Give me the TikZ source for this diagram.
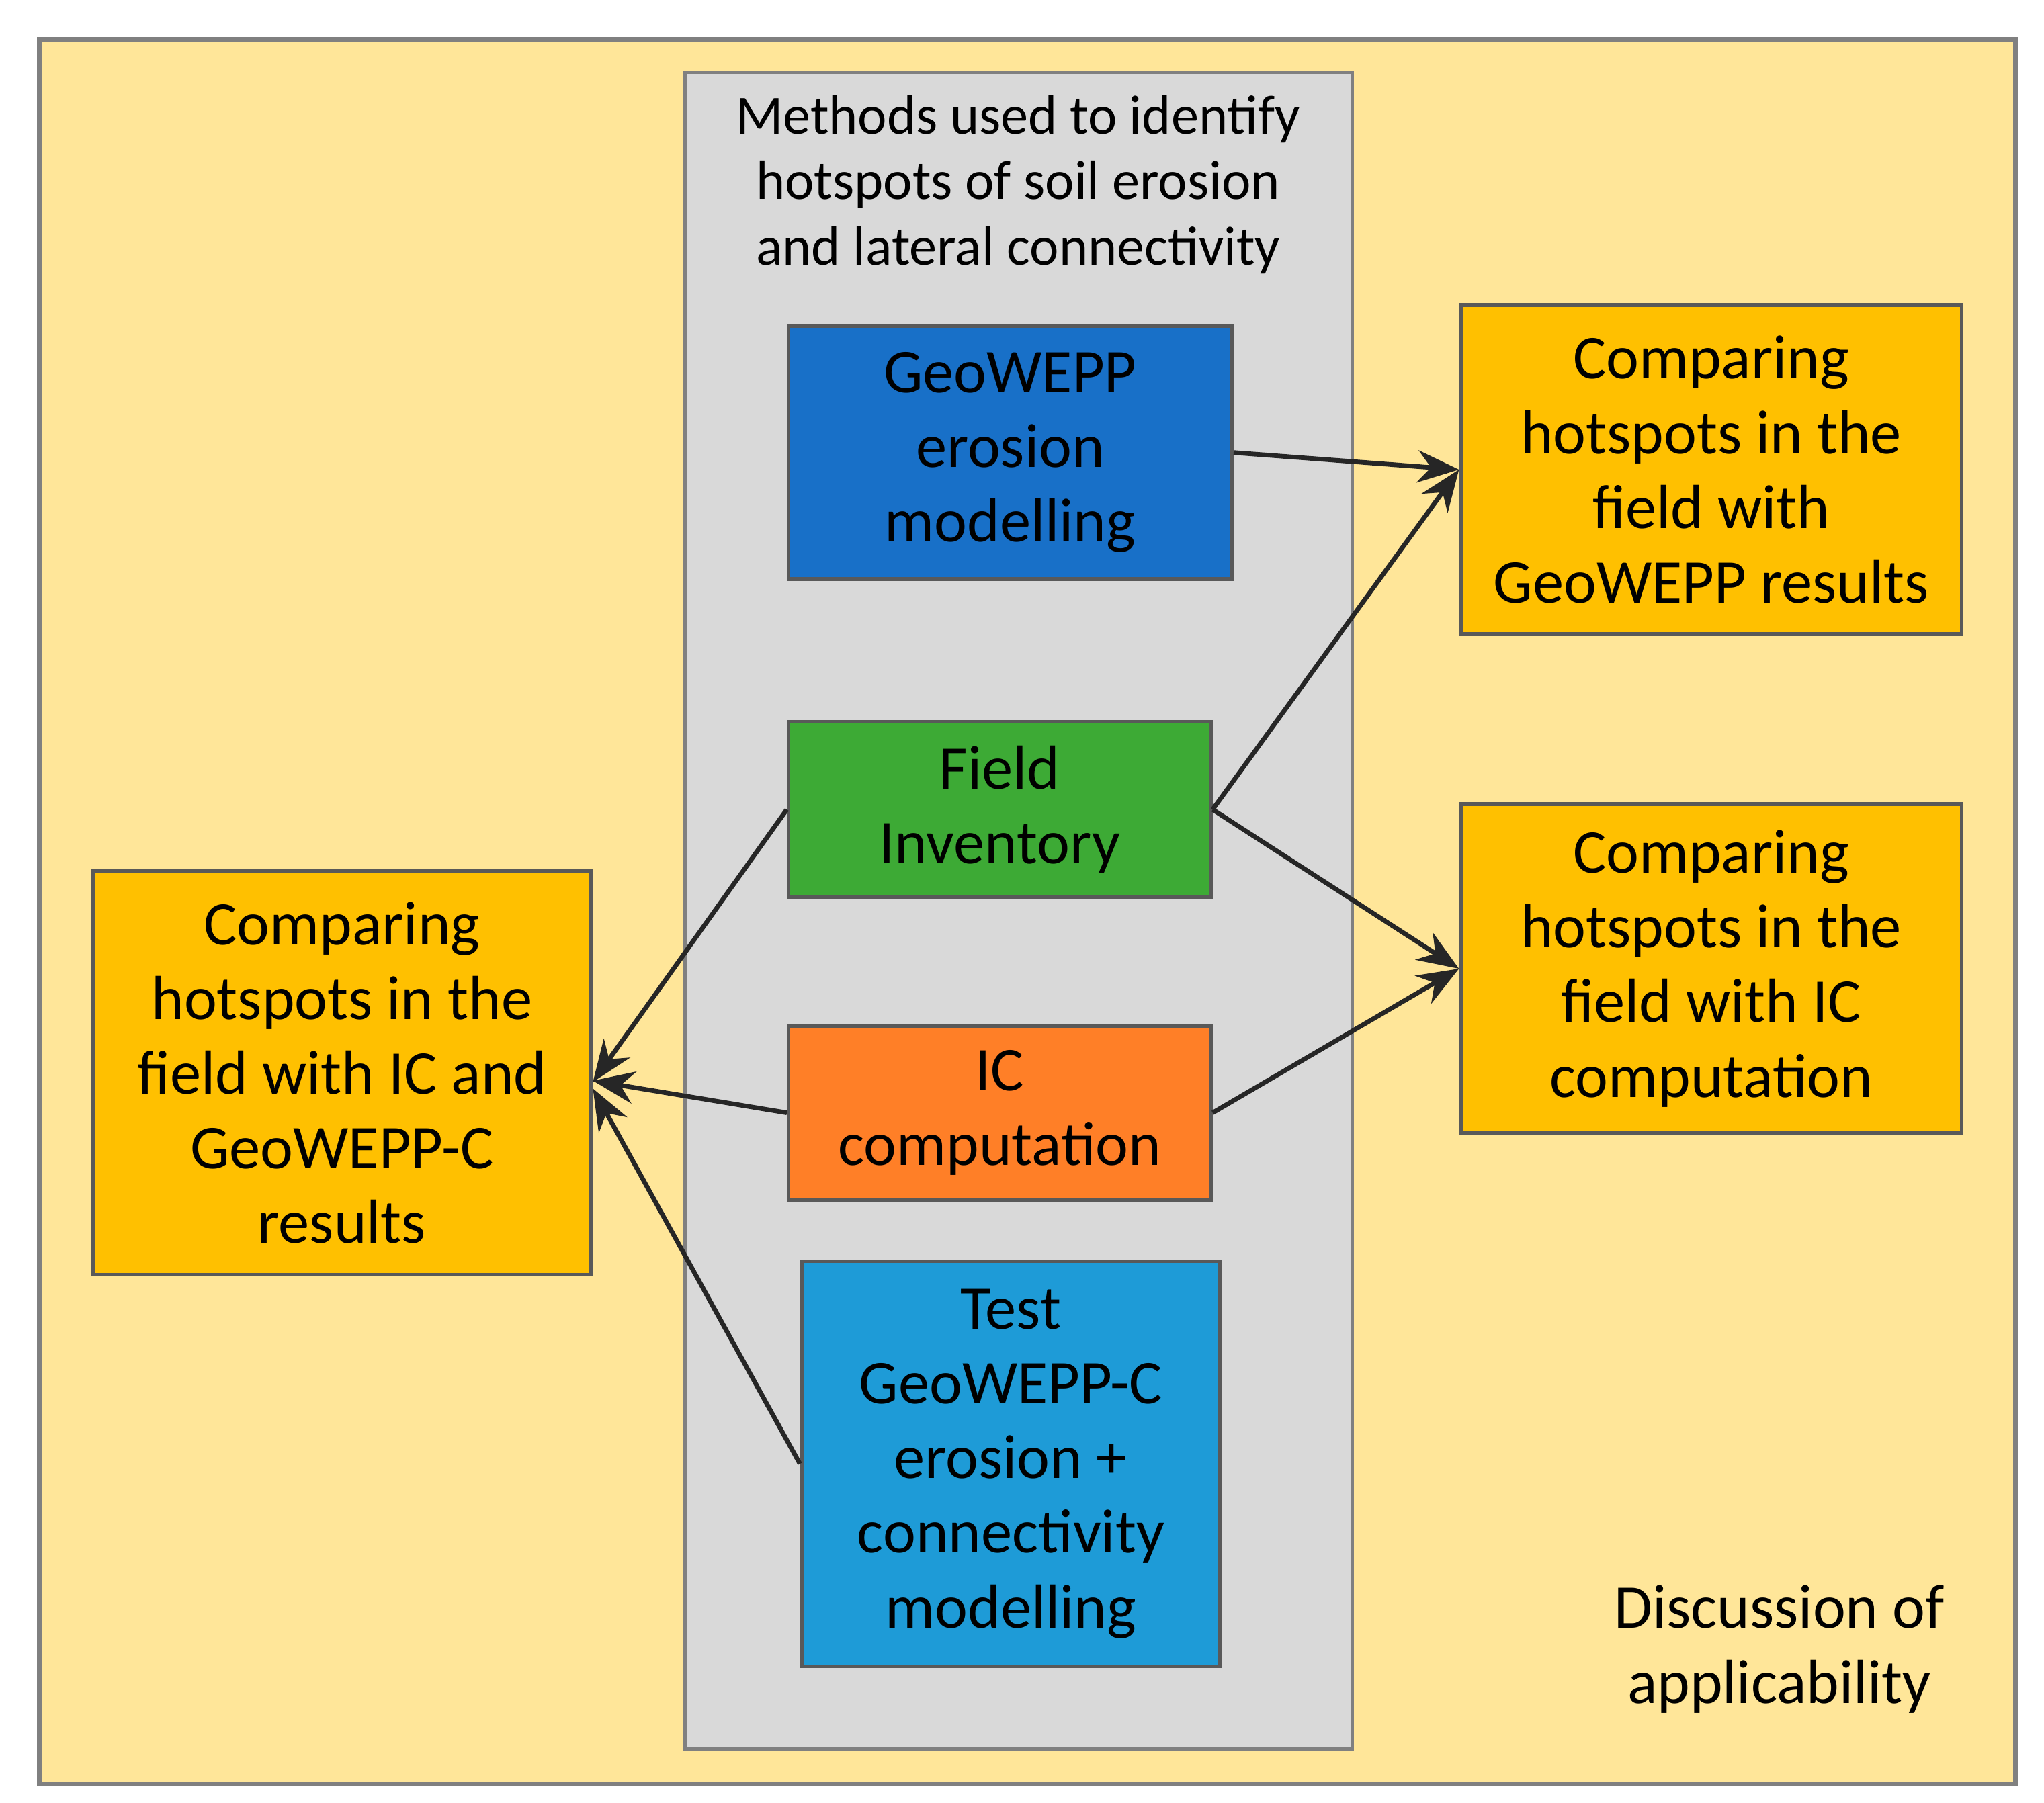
\documentclass[tikz,border=0pt]{standalone}
\usepackage{fontspec}
\setmainfont{Carlito}
\usetikzlibrary{arrows.meta}
\definecolor{bgy}{HTML}{FFE699}
\definecolor{panel}{HTML}{D9D9D9}
\definecolor{gold}{HTML}{FFC000}
\definecolor{dblue}{HTML}{1870C8}
\definecolor{lblue}{HTML}{1E9BD7}
\definecolor{grn}{HTML}{3DAA35}
\definecolor{org}{HTML}{FF7F27}
\begin{document}
\begin{tikzpicture}[x=0.01cm,y=-0.01cm,
 box/.style={draw=black!65,line width=0.8pt,inner sep=0pt,align=center,font=\fontsize{13.5}{16.2}\selectfont},
 arr/.style={-{Stealth[length=9pt,width=7pt]},line width=1pt,draw=black!85}]
\useasboundingbox (0,0) rectangle (1560,1376);
\draw[fill=bgy,draw=black!50,line width=1pt] (30,30) rectangle (1538,1362);
\draw[fill=panel,draw=black!50,line width=0.8pt] (523,55) rectangle (1032,1335);
\node[align=center,font=\fontsize{12}{14.2}\selectfont] (title) at (777,141) {Methods used to identify\\hotspots of soil erosion\\and lateral connectivity};
\node[box,fill=dblue,minimum width=3.38cm,minimum height=1.93cm] (geo) at (771,345.5) {GeoWEPP\\erosion\\modelling};
\node[box,fill=grn,minimum width=3.22cm,minimum height=1.34cm] (field) at (763,618) {Field\\Inventory};
\node[box,fill=org,minimum width=3.22cm,minimum height=1.33cm] (ic) at (763,849.5) {IC\\computation};
\node[box,fill=lblue,minimum width=3.19cm,minimum height=3.09cm] (test) at (771.5,1117.5) {Test\\GeoWEPP-C\\erosion +\\connectivity\\modelling};
\node[box,fill=gold,minimum width=3.82cm,minimum height=2.51cm] (r1) at (1306,358.5) {Comparing\\hotspots in the\\field with\\GeoWEPP results};
\node[box,fill=gold,minimum width=3.82cm,minimum height=2.51cm] (r2) at (1306,739.5) {Comparing\\hotspots in the\\field with IC\\computation};
\node[box,fill=gold,minimum width=3.80cm,minimum height=3.08cm] (l) at (261,819) {Comparing\\hotspots in the\\field with IC and\\GeoWEPP-C\\results};
\node[align=center,font=\fontsize{13.5}{16.2}\selectfont] (disc) at (1358,1259) {Discussion of\\applicability};
\draw[arr] (geo.east) -- (r1.west);
\draw[arr] (field.east) -- (r1.west);
\draw[arr] (field.east) -- (r2.west);
\draw[arr] (ic.east) -- (r2.west);
\draw[arr] (field.west) -- ([yshift=-0.07cm]l.east);
\draw[arr] (ic.west) -- ([yshift=-0.06cm]l.east);
\draw[arr] (test.west) -- ([yshift=-0.12cm]l.east);
\end{tikzpicture}
\end{document}
